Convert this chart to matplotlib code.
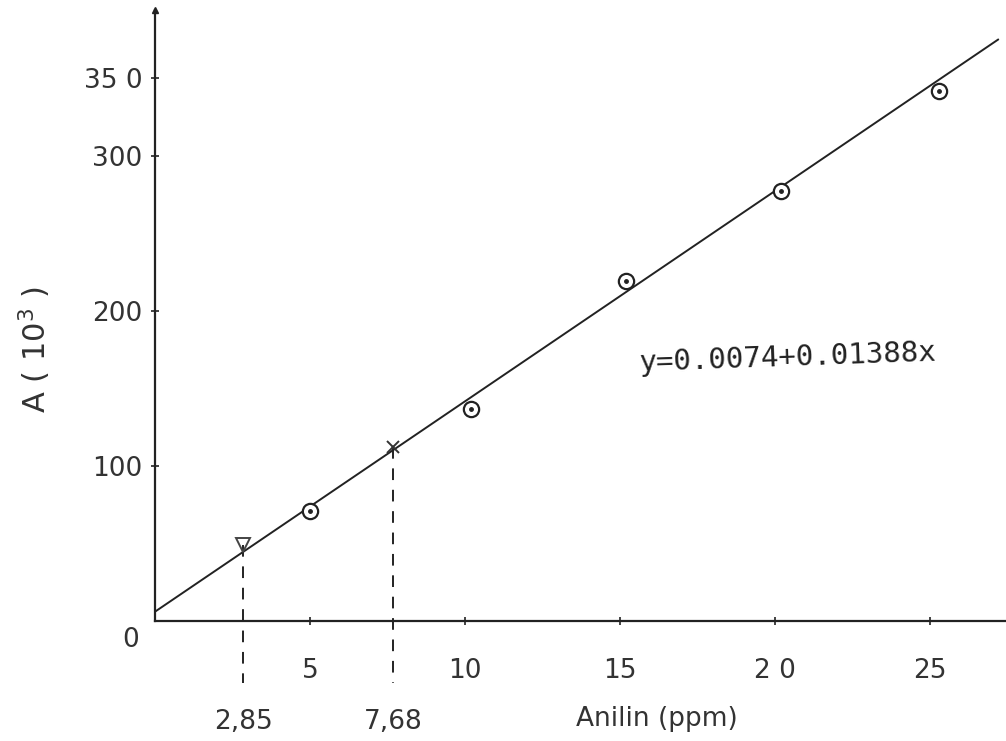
import matplotlib
matplotlib.use("Agg")
import matplotlib.pyplot as plt
from matplotlib.ticker import FixedLocator, FixedFormatter

# ---- data ----
conc = [5.0, 10.2, 15.2, 20.2, 25.3]          # Anilin (ppm), calibration points
absorb = [71, 137, 219, 277, 342]             # A (10^3)

fit_x = [0.0, 27.2]                           # fitted line end points
fit_y = [6, 375]

sample_x = [2.85, 7.68]                       # unknown samples
sample_y = [49, 112]
sample_labels = ["2,85", "7,68"]

xticks = [5, 10, 15, 20, 25]
xticklabels = ["5", "10", "15", "2 0", "25"]
yticks = [100, 200, 300, 350]
yticklabels = ["100", "200", "300", "35 0"]
equation = "y=0.0074+0.01388x"

W, H = 1006, 741
fig = plt.figure(figsize=(W / 100, H / 100), dpi=100)
ax = fig.add_axes([155 / W, 1 - 621 / H, (1006 - 155) / W, (621 - 10) / H])
ax.set_xlim(0, 27.45)
ax.set_ylim(0, 394)

ink = "#222222"
txt = "#333333"
for s in ["top", "right"]:
    ax.spines[s].set_visible(False)
for s in ["left", "bottom"]:
    ax.spines[s].set_linewidth(1.6)
    ax.spines[s].set_color(ink)

ax.xaxis.set_major_locator(FixedLocator(xticks))
ax.xaxis.set_major_formatter(FixedFormatter(xticklabels))
ax.yaxis.set_major_locator(FixedLocator(yticks))
ax.yaxis.set_major_formatter(FixedFormatter(yticklabels))
ax.tick_params(axis="both", direction="inout", length=6, width=1.2, color=ink,
               labelsize=19, labelcolor=txt)
ax.tick_params(axis="x", pad=24)
ax.tick_params(axis="y", pad=6)

# y-axis origin label
ax.text(-0.8, -4, "0", ha="center", va="top", fontsize=19, color=txt)

# fitted line
ax.plot(fit_x, fit_y, color=ink, lw=1.4, solid_capstyle="round")

# calibration points: circle with centre dot
ax.plot(conc, absorb, linestyle="none", marker="o", markersize=11,
        markerfacecolor="white", markeredgecolor=ink, markeredgewidth=1.6, zorder=3)
ax.plot(conc, absorb, linestyle="none", marker="o", markersize=2.5,
        color=ink, zorder=4)

# sample markers
ax.plot(sample_x[0], sample_y[0], marker="v", markersize=10, markerfacecolor="none",
        markeredgecolor="#444444", markeredgewidth=1.4, zorder=3)
ax.plot(sample_x[1], sample_y[1], marker="x", markersize=9,
        markeredgecolor=txt, markeredgewidth=1.4, zorder=3)

# dashed drop lines extending below the axis
for sx, sy, lab in zip(sample_x, sample_y, sample_labels):
    ax.plot([sx, sx], [sy, -40], color=ink, lw=1.4, ls=(0, (6, 5)), clip_on=False)
    ax.text(sx, -57, lab, ha="center", va="top", fontsize=19, color=txt)

# axis arrow at top of y axis
ax.plot(0, 394, marker="^", markersize=5, color=ink, clip_on=False, zorder=5)

# axis labels
ax.text(16.2, -55, "Anilin (ppm)", ha="center", va="top", fontsize=19, color=txt)
fig.text(35 / W, 1 - 350 / H, r"A ( 10$^3$ )", rotation=90, ha="center", va="center",
         fontsize=22, color=txt)

# equation
ax.text(15.6, 170, equation, ha="left", va="center", fontsize=21, color=ink,
        family="DejaVu Sans Mono", rotation=2)

fig.savefig("out.png", dpi=100, facecolor="white")
